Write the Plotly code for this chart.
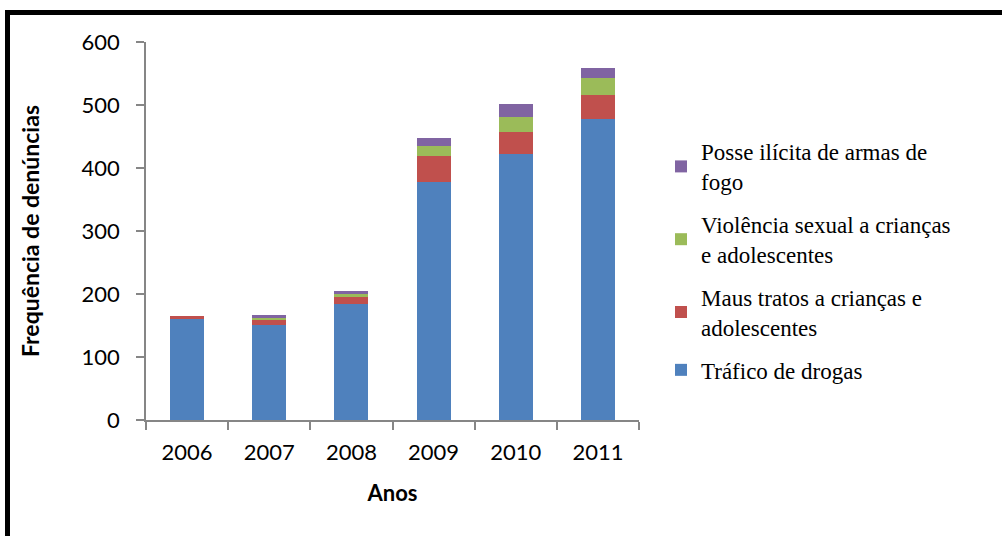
import plotly.graph_objects as go

# ── Dados ──
anos = ["2006", "2007", "2008", "2009", "2010", "2011"]

trafico_drogas = [160, 151, 184, 378, 422, 478]
maus_tratos = [5, 8, 11, 41, 35, 38]
violencia_sexual = [0, 3, 6, 16, 24, 27]
posse_armas = [0, 5, 3, 13, 20, 16]

series = [
    ("Tráfico de drogas", trafico_drogas, "#4F81BD"),
    ("Maus tratos a crianças e<br>adolescentes", maus_tratos, "#C0504D"),
    ("Violência sexual a crianças<br>e adolescentes", violencia_sexual, "#9BBB59"),
    ("Posse ilícita de armas de<br>fogo", posse_armas, "#8064A2"),
]

# geometria da área do gráfico (pixels)
W, H = 1002, 536
L, R, T, B = 146, 363, 42, 116
PW, PH = W - L - R, H - T - B


def px_x(p):
    return (p - L) / PW


def px_y(p):
    return (H - B - p) / PH


fig = go.Figure()
n = len(series)
for i, (nome, vals, cor) in enumerate(series):
    fig.add_trace(go.Bar(
        x=anos, y=vals, name=nome,
        marker=dict(color=cor, line_width=0),
        legendgroup=f"g{i}",
        legendrank=n - i,          # ordem invertida na legenda
    ))

AXIS_GRAY = "#868686"
SANS = "Lato, sans-serif"

fig.update_layout(
    width=W, height=H,
    barmode="stack",
    bargap=0.585,
    paper_bgcolor="white",
    plot_bgcolor="white",
    margin=dict(l=L, r=R, t=T, b=B),
    font=dict(family=SANS, color="#000000"),
    xaxis=dict(
        showline=True, linecolor=AXIS_GRAY, linewidth=1.5,
        ticks="outside", tickson="boundaries", ticklen=8, tickcolor=AXIS_GRAY, tickwidth=1.5,
        tickfont=dict(size=22, family=SANS),
        ticklabelstandoff=12,
        title=dict(text="<b>Anos</b>", font=dict(size=22, family=SANS), standoff=21),
        showgrid=False,
    ),
    yaxis=dict(
        range=[0, 600], dtick=100,
        showline=True, linecolor=AXIS_GRAY, linewidth=1.5,
        ticks="outside", ticklen=8, tickcolor=AXIS_GRAY, tickwidth=1.5,
        tickfont=dict(size=22, family=SANS),
        ticklabelstandoff=12,
        title=dict(text="<b>Frequência de denúncias</b>", font=dict(size=23, family=SANS), standoff=36),
        showgrid=False, zeroline=False,
    ),
    legend=dict(
        x=px_x(661), y=px_y(130), xanchor="left", yanchor="top",
        tracegroupgap=10,
        font=dict(size=23, family="Liberation Serif"),
        bgcolor="rgba(0,0,0,0)",
    ),
    shapes=[
        dict(
            type="path", xref="paper", yref="paper",
            path=f"M {px_x(7.5)},{px_y(540)} L {px_x(7.5)},{px_y(12.5)} L {px_x(1010)},{px_y(12.5)}",
            line=dict(color="black", width=5),
        )
    ],
)

fig.write_html(
    "out.html",
    config={"displayModeBar": False},
    post_script="document.body.style.margin='0';",
)
